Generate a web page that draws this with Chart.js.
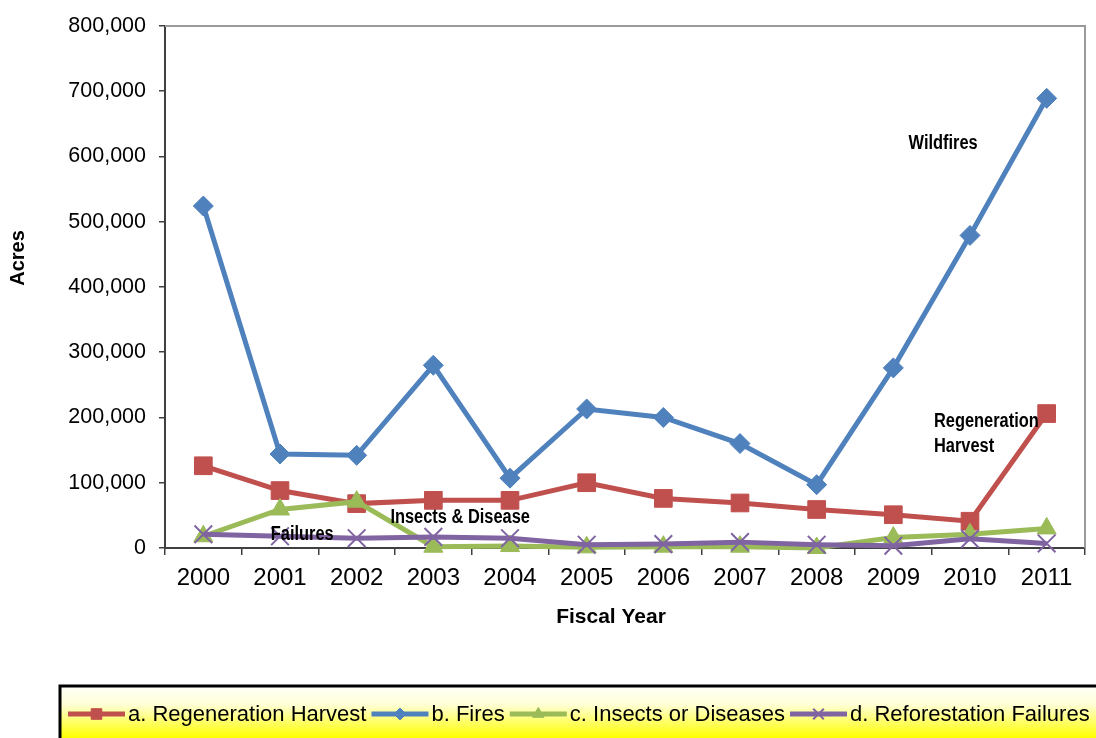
<!DOCTYPE html>
<html>
<head>
<meta charset="utf-8">
<script src="https://cdn.jsdelivr.net/npm/chart.js@4/dist/chart.umd.min.js"></script>
<style>
  html, body { margin: 0; padding: 0; background: #fff; }
  #wrap { width: 1096px; height: 738px; position: relative; }
</style>
</head>
<body>
<div id="wrap"><canvas id="acresChart" width="1096" height="738"></canvas></div>
<script>
// data
const years = ["2000", "2001", "2002", "2003", "2004", "2005", "2006", "2007", "2008", "2009", "2010", "2011"];
const regenHarvest = [126000, 88000, 68000, 73000, 73000, 100000, 76000, 69000, 59000, 51000, 41000, 206000];
const fires = [524000, 144000, 142000, 280000, 107000, 213000, 200000, 160000, 97000, 276000, 479000, 689000];
const insects = [18000, 59000, 71000, 2000, 3000, 1000, 2000, 2000, 0, 16000, 21000, 30000];
const failures = [21000, 18000, 15000, 17000, 15000, 5000, 6000, 9000, 5000, 3500, 14000, 7000];
const seriesNames = ["a. Regeneration Harvest", "b. Fires", "c. Insects or Diseases", "d. Reforestation Failures"];
const yMin = 0;
const yMax = 800000;
const yStep = 100000;

// colours
const colors = {
  red: '#C0504D',
  blue: '#4F81BD',
  green: '#9BBB59',
  purple: '#8064A2'
};

const tickFont = "'Liberation Sans', Arial, sans-serif";

// text labels inside the plot (x = category index, y = value)
const notes = [
  { lines: ["Wildfires"], x: 9.65, y: 620000, align: 'center' },
  { lines: ["Regeneration", "Harvest"], x: 9.53, y: 194000, align: 'left' },
  { lines: ["Insects & Disease"], x: 3.35, y: 47000, align: 'center' },
  { lines: ["Failures"], x: 1.29, y: 21000, align: 'center' }
];

function markPoint(ctx, style, x, y, r, color, bw) {
  if (Chart.helpers && Chart.helpers.drawPoint) {
    ctx.save();
    ctx.fillStyle = color;
    ctx.strokeStyle = color;
    ctx.lineWidth = bw;
    Chart.helpers.drawPoint(ctx, { pointStyle: style, radius: r, rotation: 0, borderWidth: bw }, x, y);
    ctx.restore();
  }
}

// narrow-looking bold text (Arial Narrow is not installed)
function narrowText(ctx, text, x, y, align, squeeze) {
  ctx.save();
  ctx.translate(x, y);
  ctx.scale(squeeze, 1);
  ctx.textAlign = align;
  ctx.fillText(text, 0, 0);
  ctx.restore();
}

// plot frame, notes, axis titles and the legend box
const extras = {
  id: 'extras',
  beforeDatasetsDraw(chart) {
    const { ctx, chartArea: a } = chart;
    ctx.save();
    ctx.strokeStyle = '#9a9a9a';
    ctx.lineWidth = 2;
    ctx.beginPath();
    ctx.moveTo(a.left, a.top);
    ctx.lineTo(a.right, a.top);
    ctx.lineTo(a.right, a.bottom);
    ctx.stroke();
    ctx.restore();
  },
  afterDraw(chart) {
    const { ctx } = chart;
    const xs = chart.scales.x, ys = chart.scales.y;

    // notes
    ctx.save();
    ctx.fillStyle = '#000';
    ctx.font = "bold 20px " + tickFont;
    ctx.textBaseline = 'middle';
    const step = xs.getPixelForValue(1) - xs.getPixelForValue(0);
    notes.forEach(n => {
      const px = xs.getPixelForValue(0) + n.x * step;
      const py = ys.getPixelForValue(n.y);
      n.lines.forEach((t, i) => narrowText(ctx, t, px, py + i * 25, n.align, 0.82));
    });
    ctx.restore();

    // axis titles
    ctx.save();
    ctx.fillStyle = '#000';
    ctx.textAlign = 'center';
    ctx.textBaseline = 'middle';
    ctx.font = "bold 21px " + tickFont;
    ctx.fillText("Fiscal Year", 611, 617);
    ctx.font = "bold 20px " + tickFont;
    ctx.translate(18, 258);
    ctx.rotate(-Math.PI / 2);
    ctx.fillText("Acres", 0, 0);
    ctx.restore();

    // legend
    const bx = 60, by = 686, bw = 1045, bh = 60;
    ctx.save();
    const g = ctx.createLinearGradient(0, by, 0, by + 52);
    g.addColorStop(0, '#FFFFF8');
    g.addColorStop(0.35, '#FFFFD8');
    g.addColorStop(1, '#FFFF00');
    ctx.fillStyle = g;
    ctx.fillRect(bx, by, bw, bh);
    ctx.strokeStyle = '#000';
    ctx.lineWidth = 3;
    ctx.strokeRect(bx, by, bw, bh);

    ctx.font = "22px " + tickFont;
    ctx.textBaseline = 'middle';
    ctx.textAlign = 'left';
    let lx = 68;
    const ly = 714;
    chart.data.datasets.forEach(ds => {
      ctx.strokeStyle = ds.borderColor;
      ctx.lineWidth = 5;
      ctx.beginPath();
      ctx.moveTo(lx, ly);
      ctx.lineTo(lx + 57, ly);
      ctx.stroke();
      markPoint(ctx, ds.pointStyle, lx + 28.5, ly, ds.pointRadius * 0.6, ds.borderColor, ds.pointBorderWidth);
      ctx.fillStyle = '#000';
      ctx.fillText(ds.label, lx + 60, ly + 1);
      lx += 60 + ctx.measureText(ds.label).width + 5;
    });
    ctx.restore();
  }
};

function series(label, data, color, style, radius, bw, order) {
  return {
    label: label,
    data: data,
    borderColor: color,
    backgroundColor: color,
    borderWidth: 5,
    pointStyle: style,
    pointRadius: radius,
    pointHoverRadius: radius,
    pointBackgroundColor: color,
    pointBorderColor: color,
    pointBorderWidth: bw,
    tension: 0,
    clip: false,
    order: order
  };
}

new Chart(document.getElementById('acresChart'), {
  type: 'line',
  data: {
    labels: years,
    datasets: [
      series(seriesNames[0], regenHarvest, colors.red, 'rect', 12.5, 1, 4),
      series(seriesNames[1], fires, colors.blue, 'rectRot', 10, 1, 3),
      series(seriesNames[2], insects, colors.green, 'triangle', 11, 1, 2),
      series(seriesNames[3], failures, colors.purple, 'crossRot', 12.5, 2, 1)
    ]
  },
  options: {
    responsive: false,
    animation: false,
    devicePixelRatio: 1,
    layout: { autoPadding: false, padding: { top: 16, right: 11, left: 0, bottom: 98 } },
    plugins: {
      legend: { display: false },
      tooltip: { enabled: false }
    },
    scales: {
      x: {
        type: 'category',
        offset: true,
        grid: {
          display: true,
          drawOnChartArea: false,
          drawTicks: true,
          tickLength: 7,
          color: '#404040',
          lineWidth: 1.5,
          offset: true
        },
        border: { display: true, color: '#404040', width: 2 },
        ticks: {
          font: { family: tickFont, size: 24 },
          color: '#000',
          padding: 9,
          maxRotation: 0,
          autoSkip: false
        },
        afterFit: s => { s.height = 92; }
      },
      y: {
        min: yMin,
        max: yMax,
        grid: {
          display: true,
          drawOnChartArea: false,
          drawTicks: true,
          tickLength: 6,
          color: '#404040',
          lineWidth: 1.5
        },
        border: { display: true, color: '#404040', width: 2 },
        ticks: {
          stepSize: yStep,
          font: { family: tickFont, size: 21.5 },
          color: '#000',
          padding: 13,
          callback: v => v.toLocaleString('en-US')
        },
        afterFit: s => { s.width = 165; }
      }
    }
  },
  plugins: [extras]
});
</script>
</body>
</html>
